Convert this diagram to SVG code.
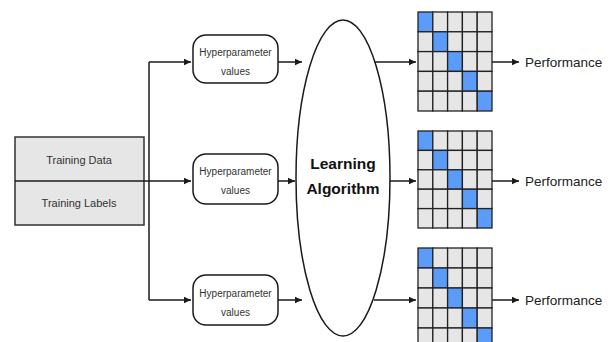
<svg xmlns="http://www.w3.org/2000/svg" width="613" height="342" viewBox="0 0 613 342">
<defs>
<marker id="ah" markerWidth="8" markerHeight="8" refX="7" refY="4" orient="auto" markerUnits="userSpaceOnUse">
<path d="M0,0.8 L7,4 L0,7.2 Z" fill="#1a1a1a"/>
</marker>
<style>
.ln{stroke:#1a1a1a;stroke-width:1.5;fill:none}
.hp{fill:#fff;stroke:#1a1a1a;stroke-width:1.5}
.hpt{font-family:"Liberation Sans",Arial,sans-serif;font-size:10px;fill:#333;text-anchor:middle}
.tt{font-family:"Liberation Sans",Arial,sans-serif;font-size:11px;fill:#333;text-anchor:middle}
.perf{font-family:"Liberation Sans",Arial,sans-serif;font-size:13.5px;fill:#222}
.la{font-family:"Liberation Sans",Arial,sans-serif;font-size:15.5px;font-weight:bold;fill:#111;text-anchor:middle}
.c{fill:#e6e6e6;stroke:#222;stroke-width:1.3}
.b{fill:#5a9cf8;stroke:#222;stroke-width:1.3}
</style>
</defs>
<rect width="613" height="342" fill="#fff"/>

<g id="training">
<rect x="15" y="137" width="129" height="88" fill="#e6e6e6" stroke="#333" stroke-width="1.5"/>
<text class="tt" x="79" y="164">Training Data</text>
<text class="tt" x="79" y="207">Training Labels</text>
</g>

<g id="connectors">
<line class="ln" x1="15" y1="181" x2="191" y2="181" marker-end="url(#ah)"/>
<line class="ln" x1="149" y1="62" x2="149" y2="300"/>
<line class="ln" x1="149" y1="62" x2="191" y2="62" marker-end="url(#ah)"/>
<line class="ln" x1="149" y1="300" x2="191" y2="300" marker-end="url(#ah)"/>
<line class="ln" x1="278" y1="62" x2="302" y2="62" marker-end="url(#ah)"/>
<line class="ln" x1="278" y1="181" x2="295" y2="181" marker-end="url(#ah)"/>
<line class="ln" x1="278" y1="300" x2="302" y2="300" marker-end="url(#ah)"/>
<line class="ln" x1="375" y1="62" x2="416" y2="62" marker-end="url(#ah)"/>
<line class="ln" x1="390" y1="181" x2="416" y2="181" marker-end="url(#ah)"/>
<line class="ln" x1="374" y1="300" x2="416" y2="300" marker-end="url(#ah)"/>
<line class="ln" x1="492" y1="62" x2="519" y2="62" marker-end="url(#ah)"/>
<line class="ln" x1="492" y1="181" x2="519" y2="181" marker-end="url(#ah)"/>
<line class="ln" x1="492" y1="300" x2="519" y2="300" marker-end="url(#ah)"/>
</g>

<g id="hp1">
<rect class="hp" x="193" y="35" width="85" height="48" rx="13"/>
<text class="hpt" x="235.5" y="56">Hyperparameter</text>
<text class="hpt" x="235.5" y="75">values</text>
</g>
<g id="hp2">
<rect class="hp" x="193" y="154" width="85" height="50" rx="13"/>
<text class="hpt" x="235.5" y="175">Hyperparameter</text>
<text class="hpt" x="235.5" y="194">values</text>
</g>
<g id="hp3">
<rect class="hp" x="193" y="275" width="85" height="50" rx="13"/>
<text class="hpt" x="235.5" y="297">Hyperparameter</text>
<text class="hpt" x="235.5" y="316">values</text>
</g>

<g id="algorithm">
<ellipse cx="343" cy="178" rx="47" ry="158" fill="#fff" stroke="#1a1a1a" stroke-width="1.5"/>
<text class="la" x="343" y="169">Learning</text>
<text class="la" x="343" y="194">Algorithm</text>
</g>

<g id="grid1">
<rect class="b" x="418" y="12" width="14.8" height="19.8"/>
<rect class="c" x="432.8" y="12" width="14.8" height="19.8"/>
<rect class="c" x="447.6" y="12" width="14.8" height="19.8"/>
<rect class="c" x="462.4" y="12" width="14.8" height="19.8"/>
<rect class="c" x="477.2" y="12" width="14.8" height="19.8"/>
<rect class="c" x="418" y="31.8" width="14.8" height="19.8"/>
<rect class="b" x="432.8" y="31.8" width="14.8" height="19.8"/>
<rect class="c" x="447.6" y="31.8" width="14.8" height="19.8"/>
<rect class="c" x="462.4" y="31.8" width="14.8" height="19.8"/>
<rect class="c" x="477.2" y="31.8" width="14.8" height="19.8"/>
<rect class="c" x="418" y="51.6" width="14.8" height="19.8"/>
<rect class="c" x="432.8" y="51.6" width="14.8" height="19.8"/>
<rect class="b" x="447.6" y="51.6" width="14.8" height="19.8"/>
<rect class="c" x="462.4" y="51.6" width="14.8" height="19.8"/>
<rect class="c" x="477.2" y="51.6" width="14.8" height="19.8"/>
<rect class="c" x="418" y="71.4" width="14.8" height="19.8"/>
<rect class="c" x="432.8" y="71.4" width="14.8" height="19.8"/>
<rect class="c" x="447.6" y="71.4" width="14.8" height="19.8"/>
<rect class="b" x="462.4" y="71.4" width="14.8" height="19.8"/>
<rect class="c" x="477.2" y="71.4" width="14.8" height="19.8"/>
<rect class="c" x="418" y="91.2" width="14.8" height="19.8"/>
<rect class="c" x="432.8" y="91.2" width="14.8" height="19.8"/>
<rect class="c" x="447.6" y="91.2" width="14.8" height="19.8"/>
<rect class="c" x="462.4" y="91.2" width="14.8" height="19.8"/>
<rect class="b" x="477.2" y="91.2" width="14.8" height="19.8"/>
</g>
<g id="grid2" transform="translate(0,119)">
<rect class="b" x="418" y="12" width="14.8" height="19.4"/>
<rect class="c" x="432.8" y="12" width="14.8" height="19.4"/>
<rect class="c" x="447.6" y="12" width="14.8" height="19.4"/>
<rect class="c" x="462.4" y="12" width="14.8" height="19.4"/>
<rect class="c" x="477.2" y="12" width="14.8" height="19.4"/>
<rect class="c" x="418" y="31.4" width="14.8" height="19.4"/>
<rect class="b" x="432.8" y="31.4" width="14.8" height="19.4"/>
<rect class="c" x="447.6" y="31.4" width="14.8" height="19.4"/>
<rect class="c" x="462.4" y="31.4" width="14.8" height="19.4"/>
<rect class="c" x="477.2" y="31.4" width="14.8" height="19.4"/>
<rect class="c" x="418" y="50.8" width="14.8" height="19.4"/>
<rect class="c" x="432.8" y="50.8" width="14.8" height="19.4"/>
<rect class="b" x="447.6" y="50.8" width="14.8" height="19.4"/>
<rect class="c" x="462.4" y="50.8" width="14.8" height="19.4"/>
<rect class="c" x="477.2" y="50.8" width="14.8" height="19.4"/>
<rect class="c" x="418" y="70.2" width="14.8" height="19.4"/>
<rect class="c" x="432.8" y="70.2" width="14.8" height="19.4"/>
<rect class="c" x="447.6" y="70.2" width="14.8" height="19.4"/>
<rect class="b" x="462.4" y="70.2" width="14.8" height="19.4"/>
<rect class="c" x="477.2" y="70.2" width="14.8" height="19.4"/>
<rect class="c" x="418" y="89.6" width="14.8" height="19.4"/>
<rect class="c" x="432.8" y="89.6" width="14.8" height="19.4"/>
<rect class="c" x="447.6" y="89.6" width="14.8" height="19.4"/>
<rect class="c" x="462.4" y="89.6" width="14.8" height="19.4"/>
<rect class="b" x="477.2" y="89.6" width="14.8" height="19.4"/>
</g>
<g id="grid3" transform="translate(0,236)">
<rect class="b" x="418" y="12" width="14.8" height="20"/>
<rect class="c" x="432.8" y="12" width="14.8" height="20"/>
<rect class="c" x="447.6" y="12" width="14.8" height="20"/>
<rect class="c" x="462.4" y="12" width="14.8" height="20"/>
<rect class="c" x="477.2" y="12" width="14.8" height="20"/>
<rect class="c" x="418" y="32" width="14.8" height="20"/>
<rect class="b" x="432.8" y="32" width="14.8" height="20"/>
<rect class="c" x="447.6" y="32" width="14.8" height="20"/>
<rect class="c" x="462.4" y="32" width="14.8" height="20"/>
<rect class="c" x="477.2" y="32" width="14.8" height="20"/>
<rect class="c" x="418" y="52" width="14.8" height="20"/>
<rect class="c" x="432.8" y="52" width="14.8" height="20"/>
<rect class="b" x="447.6" y="52" width="14.8" height="20"/>
<rect class="c" x="462.4" y="52" width="14.8" height="20"/>
<rect class="c" x="477.2" y="52" width="14.8" height="20"/>
<rect class="c" x="418" y="72" width="14.8" height="20"/>
<rect class="c" x="432.8" y="72" width="14.8" height="20"/>
<rect class="c" x="447.6" y="72" width="14.8" height="20"/>
<rect class="b" x="462.4" y="72" width="14.8" height="20"/>
<rect class="c" x="477.2" y="72" width="14.8" height="20"/>
<rect class="c" x="418" y="92" width="14.8" height="20"/>
<rect class="c" x="432.8" y="92" width="14.8" height="20"/>
<rect class="c" x="447.6" y="92" width="14.8" height="20"/>
<rect class="c" x="462.4" y="92" width="14.8" height="20"/>
<rect class="b" x="477.2" y="92" width="14.8" height="20"/>
</g>

<g id="perf1"><text class="perf" x="525" y="67">Performance</text></g>
<g id="perf2"><text class="perf" x="525" y="186">Performance</text></g>
<g id="perf3"><text class="perf" x="525" y="305">Performance</text></g>
</svg>
